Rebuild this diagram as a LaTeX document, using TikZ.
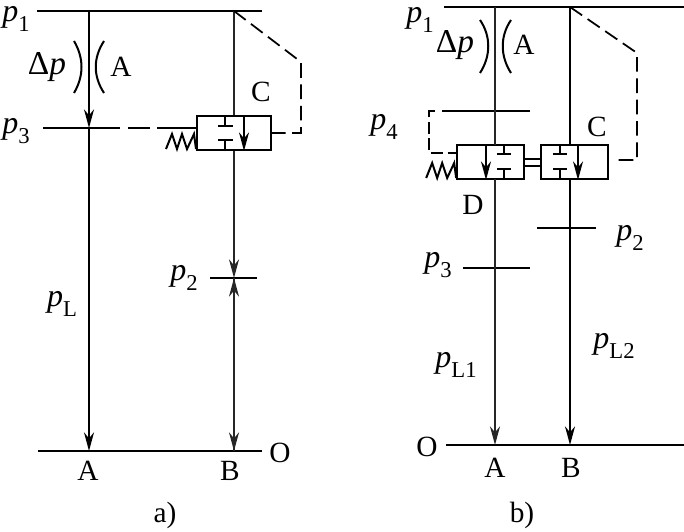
\documentclass[tikz,border=0pt]{standalone}
\usepackage{fontspec}
\setmainfont{Liberation Serif}
\usetikzlibrary{arrows.meta,calc}
\newcommand{\pSym}[1]{{\fontsize{24}{24}\selectfont\textit{p}}\raisebox{-0.8ex}{\fontsize{17}{17}\selectfont #1}}
\newcommand{\zigzag}[1]{\draw[main] (#1) -- ++(-2,-15) -- ++(-7,15) -- ++(-5,-15) -- ++(-5,15) -- ++(-5,-15) -- ++(-6,15);}

\begin{document}
\begin{tikzpicture}[
  x=0.75pt, y=-0.75pt,
  font=\fontsize{22}{24}\selectfont,
  main/.style    ={draw=black, line width=1.5pt},
  pipe/.style    ={draw=black!85, line width=1.3pt},
  flow/.style    ={pipe, -{Stealth[length=14pt, width=7.5pt, inset=4.5pt]}},
  pilot/.style   ={draw=black, line width=1.3pt, dash pattern=on 11pt off 5pt},
  pilotS/.style  ={draw=black, line width=1.3pt, dash pattern=on 9pt off 3.5pt},
  valveA/.style  ={draw=black, line width=1.5pt, fill=white, inner sep=0pt,
                   minimum width=55.5pt, minimum height=25.5pt},
  valveB/.style  ={valveA, minimum width=50pt},
  lbl/.style     ={inner sep=0pt},
]
\useasboundingbox (0,0) rectangle (684,531);

% ---- geometry --------------------------------------------------------------
\def\cA{89}  \def\cB{234}  % left circuit
\def\cC{495} \def\cD{570}  % right circuit

% ---- a) valve and rails ----------------------------------------------------
\node[valveA] (valveL) at (\cB,133) {};
\coordinate (railLw) at (37,11);   \coordinate (railLe) at (262,11);
\coordinate (baseLw) at (38,451);  \coordinate (baseLe) at (262,451);
\coordinate (topA)   at (\cA,11);  \coordinate (topB)   at (\cB,11);
\coordinate (botA)   at (\cA,451); \coordinate (botB)   at (\cB,451);
\coordinate (p3w)    at (43,128);  \coordinate (p3m)    at (\cA,128);
\coordinate (p2w)    at (210,278); \coordinate (p2e)    at (257,278);
\coordinate (p2m)    at (\cB,278);
\coordinate (kneeL)  at (301,62);  \coordinate (backL)  at (301,133);

\draw[main] (railLw) -- (railLe);
\draw[main] (baseLw) -- (baseLe);
\draw[main] (p2w) -- (p2e);
\draw[main] (p3w) -- (p3m) -- ++(31,0);

\draw[flow, draw=black] (topA) -- (p3m);
\draw[flow, draw=black] (p3m) -- (botA);
\draw[pipe] (topB) -- (valveL.north);
\draw[flow] (valveL.south) -- (p2m);
\draw[flow] (botB) -- (p2m);
\draw[flow] (p2m) -- (botB);

% restrictor A
\draw[main] (74,41) .. controls (84,58) and (84,76) .. (74,93);
\draw[main] (104,41) .. controls (93,58) and (93,76) .. (104,93);

% pilot lines
\draw[pilot] (topB) -- (kneeL) -- (backL) -- ($(valveL.east)+(12,0)$);
\draw[main, line width=1.3pt] (valveL.east) -- ++(12,0);
\draw[main, line width=1.3pt] (p3m) ++(39,0) -- ++(22,0) ++(7,0) -- (valveL.west |- p3m);
\zigzag{$(valveL.south west)+(0,-2)$}

% inside the valve
\draw[main] ($(valveL.north)+(-9,0)$) -- ++(0,11) ++(-7,0) -- ++(15,0);
\draw[main] ($(valveL.south)+(-9,0)$) -- ++(0,-11) ++(-7,0) -- ++(15,0);
\draw[flow, draw=black] ($(valveL.north)+(10,0)$) -- ($(valveL.south)+(10,0)$);

% ---- b) valves and rails ---------------------------------------------------
\node[valveB] (valveD) at (490.5,162) {};
\node[valveB] (valveC) at (574.5,162) {};
\coordinate (railRw) at (444,7);   \coordinate (railRe) at (684,7);
\coordinate (baseRw) at (446,445); \coordinate (baseRe) at (684,445);
\coordinate (topC)   at (\cC,7);   \coordinate (topD)   at (\cD,7);
\coordinate (botC)   at (\cC,445); \coordinate (botD)   at (\cD,445);
\coordinate (p4w)    at (442,111); \coordinate (p4e)    at (530,111);
\coordinate (p4g)    at (435,111);
\coordinate (p4c)    at (429,111); \coordinate (p4d)    at (429,153);
\coordinate (p3rw)   at (463,268); \coordinate (p3re)   at (530,268);
\coordinate (p2rw)   at (537,228); \coordinate (p2re)   at (596,228);
\coordinate (kneeR)  at (637,53);  \coordinate (backR)  at (637,160);
\coordinate (gapR)   at (618,160);

\draw[main] (railRw) -- (railRe);
\draw[main] (baseRw) -- (baseRe);
\draw[main] (p4w) -- (p4e);
\draw[main] (p3rw) -- (p3re);
\draw[main] (p2rw) -- (p2re);

\draw[pipe] (topC) -- (\cC,145);
\draw[flow] (\cC,179) -- (botC);
\draw[main] (topD) -- (\cD,145);
\draw[flow, draw=black] (\cD,179) -- (botD);

% restrictor A
\draw[main] (480,20) .. controls (491,36) and (491,56) .. (480,73);
\draw[main] (511,20) .. controls (500,36) and (500,56) .. (511,73);

% pilot lines
\draw[pilot] (topD) -- (kneeR) -- (backR) -- (gapR);
\draw[pilotS] (p4g) -- (p4c) -- (p4d) -- (valveD.west |- p4d);
\zigzag{$(valveD.south west)+(0,-2)$}

% link between the valves
\draw[main] ($(valveD.east)+(0,-3)$) -- ($(valveC.west)+(0,-3)$);
\draw[main] ($(valveD.east)+(0,4)$) -- ($(valveC.west)+(0,4)$);

% inside the valves
\draw[main] ($(valveD.north)+(13.5,0)$) -- ++(0,10) ++(-7,0) -- ++(14,0);
\draw[main] ($(valveD.south)+(13.5,0)$) -- ++(0,-11) ++(-7,0) -- ++(14,0);
\draw[flow, draw=black] ($(valveD.north)+(-4.5,0)$) -- ($(valveD.south)+(-4.5,0)$);
\draw[main] ($(valveC.north)+(-14.5,0)$) -- ++(0,10) ++(-7,0) -- ++(14,0);
\draw[main] ($(valveC.south)+(-14.5,0)$) -- ++(0,-11) ++(-7,0) -- ++(14,0);
\draw[flow, draw=black] ($(valveC.north)+(3.5,0)$) -- ($(valveC.south)+(3.5,0)$);

% ---- labels ----------------------------------------------------------------
\node[lbl] (lblP1L) at (16,19)   {\pSym{1}};
\node[lbl] (lblDpL) at (47,67)   {{\fontsize{25}{25}\selectfont Δ\textit{p}}};
\node[lbl] (lblAL)  at (121,67)  {A};
\node[lbl] (lblP3L) at (16,131)  {\pSym{3}};
\node[lbl] (lblCL)  at (261,92)  {C};
\node[lbl] (lblP2L) at (184,278) {\pSym{2}};
\node[lbl] (lblPL)  at (62,304)  {\pSym{L}};
\node[lbl] (lblBA)  at (88,471)  {A};
\node[lbl] (lblBB)  at (230,471) {B};
\node[lbl] (lblOL)  at (280,453) {O};
\node[lbl] (lblSubA) at (165,515) {a)};

\node[lbl] (lblP1R) at (420,20)  {\pSym{1}};
\node[lbl] (lblDpR) at (455,45)  {{\fontsize{25}{25}\selectfont Δ\textit{p}}};
\node[lbl] (lblAR)  at (524,45)  {A};
\node[lbl] (lblP4R) at (384,127) {\pSym{4}};
\node[lbl] (lblCR)  at (597,127) {C};
\node[lbl] (lblDR)  at (473,205) {D};
\node[lbl] (lblP2R) at (630,238) {\pSym{2}};
\node[lbl] (lblP3R) at (438,265) {\pSym{3}};
\node[lbl] (lblPL1) at (456,365) {\pSym{L1}};
\node[lbl] (lblPL2) at (614,346) {\pSym{L2}};
\node[lbl] (lblOR)  at (427,447) {O};
\node[lbl] (lblRA)  at (495,468) {A};
\node[lbl] (lblRB)  at (571,468) {B};
\node[lbl] (lblSubB) at (522,515) {b)};
\end{tikzpicture}
\end{document}
